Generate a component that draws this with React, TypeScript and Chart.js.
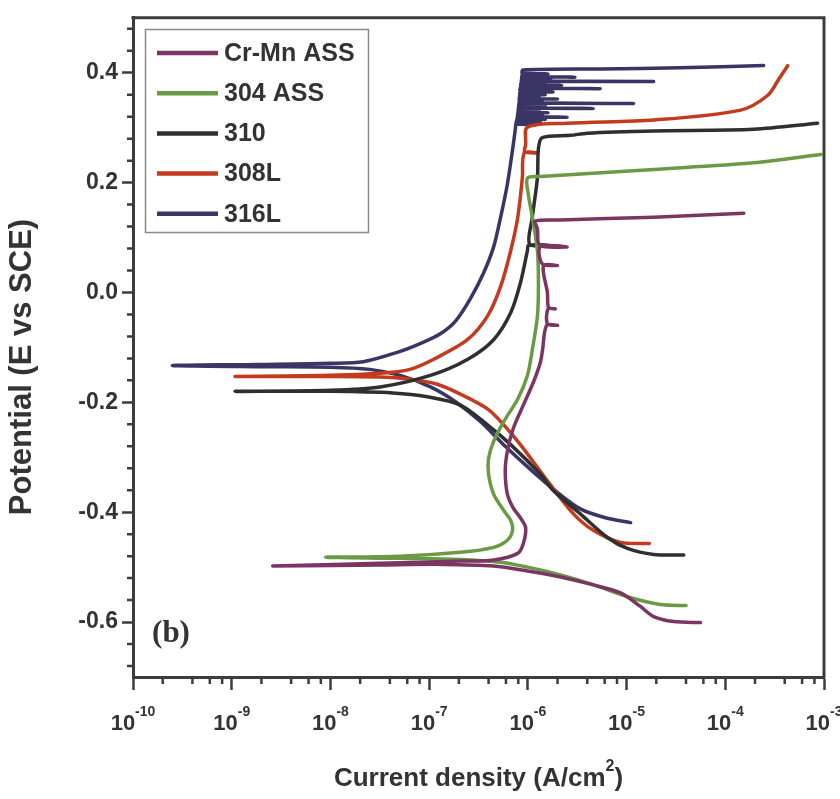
import { useEffect, useRef } from 'react';
import { Chart, registerables } from 'chart.js';

Chart.register(...registerables);

// ---------------- data ----------------
const seriesNames = ['Cr-Mn ASS', '304 ASS', '310', '308L', '316L'];
const seriesColors = ['#7b3563', '#6b9a45', '#2f2f2f', '#c43a1e', '#3a3564'];

// Cr-Mn ASS: cathodic end -> Ecorr tip -> anodic / passive
const crMnCurrent = [
  5.6e-5, 3.0e-5, 1.88e-5, 1.39e-5, 8.7e-6, 4.3e-6, 2.14e-6, 9.9e-7, 4.5e-7, 1.39e-7, 3.2e-8, 2.6e-9,
  3.2e-8, 2.07e-7, 4.5e-7, 7.9e-7, 9.0e-7, 9.5e-7, 8.4e-7, 7.1e-7, 6.2e-7, 5.9e-7, 6.2e-7, 7.1e-7,
  9.0e-7, 1.14e-6, 1.34e-6, 1.41e-6, 1.55e-6, 2.0e-6, 1.58e-6, 1.6e-6, 1.9e-6, 1.62e-6,
  1.58e-6, 1.44e-6, 2.0e-6, 1.40e-6,
  1.34e-6, 2.5e-6, 1.32e-6, 1.25e-6, 1.19e-6, 2.14e-6, 1.88e-5, 1.54e-4,
];
const crMnPotential = [
  -0.601, -0.599, -0.59, -0.572, -0.547, -0.531, -0.518, -0.507, -0.498, -0.495, -0.496, -0.498,
  -0.493, -0.489, -0.487, -0.475, -0.457, -0.428, -0.41, -0.392, -0.367, -0.325, -0.289, -0.248,
  -0.205, -0.163, -0.127, -0.104, -0.06, -0.06, -0.057, -0.03, -0.03, -0.027,
  -0.001, 0.049, 0.049, 0.052,
  0.083, 0.083, 0.086, 0.116, 0.13, 0.132, 0.137, 0.144,
];

// 304 ASS
const ss304Current = [
  4.0e-5, 2.2e-5, 1.02e-5, 4.6e-6, 2.14e-6, 9.9e-7, 5.3e-7, 2.07e-7, 5.1e-8, 8.9e-9,
  5.1e-8, 2.07e-7, 4.5e-7, 6.2e-7, 7.0e-7, 6.7e-7, 5.7e-7, 4.5e-7, 4.0e-7, 4.0e-7, 4.5e-7, 5.7e-7,
  7.9e-7, 9.9e-7, 1.11e-6, 1.25e-6, 1.28e-6, 1.25e-6, 1.11e-6, 1.01e-6, 9.9e-7, 1.34e-6, 1.88e-5,
  1.94e-4, 9.3e-4,
];
const ss304Potential = [
  -0.57, -0.568, -0.554, -0.532, -0.514, -0.5, -0.491, -0.486, -0.484, -0.482,
  -0.48, -0.473, -0.464, -0.451, -0.433, -0.415, -0.397, -0.367, -0.331, -0.302, -0.271, -0.235,
  -0.194, -0.151, -0.104, -0.043, 0.017, 0.076, 0.137, 0.179, 0.208, 0.211, 0.224,
  0.236, 0.251,
];

// 310
const ss310Current = [
  3.8e-5, 1.88e-5, 1.02e-5, 6.4e-6, 3.4e-6, 1.82e-6, 1.34e-6, 6.7e-7, 3.9e-7, 2.07e-7, 9.6e-8, 4.3e-8,
  1.0e-8, 1.08e-9,
  1.0e-8, 3.2e-8, 1.03e-7, 2.44e-7, 4.5e-7, 6.7e-7, 8.4e-7, 9.9e-7, 1.02e-6, 1.6e-6, 1.04e-6,
  1.11e-6, 1.25e-6, 1.28e-6, 1.4e-6, 2.7e-6, 4.0e-6, 1.88e-5, 1.94e-4, 8.6e-4,
];
const ss310Potential = [
  -0.478, -0.477, -0.466, -0.446, -0.403, -0.361, -0.331, -0.277, -0.241, -0.205, -0.19, -0.183,
  -0.18, -0.18,
  -0.178, -0.172, -0.151, -0.122, -0.086, -0.037, 0.017, 0.076, 0.086, 0.086, 0.088,
  0.137, 0.209, 0.262, 0.282, 0.286, 0.29, 0.294, 0.297, 0.308,
];

// 308L
const ss308LCurrent = [
  1.7e-5, 8.7e-6, 4.6e-6, 2.9e-6, 1.58e-6, 8.4e-7, 5.7e-7, 3.9e-7, 2.07e-7, 1.21e-7, 6.4e-8, 3.2e-8,
  7.9e-9, 1.08e-9,
  7.9e-9, 3.2e-8, 6.4e-8, 1.1e-7, 2.44e-7, 3.9e-7, 5.3e-7, 6.7e-7, 7.9e-7, 8.8e-7, 9.2e-7, 1.25e-6,
  9.3e-7, 9.5e-7, 9.9e-7, 2.5e-6, 1.9e-5, 1.43e-4, 2.7e-4, 3.5e-4, 4.3e-4,
];
const ss308LPotential = [
  -0.457, -0.455, -0.433, -0.403, -0.343, -0.277, -0.241, -0.212, -0.185, -0.167, -0.158, -0.154,
  -0.153, -0.153,
  -0.151, -0.147, -0.14, -0.122, -0.086, -0.043, 0.011, 0.076, 0.137, 0.209, 0.254, 0.254,
  0.256, 0.269, 0.301, 0.308, 0.314, 0.332, 0.359, 0.389, 0.413,
];

// 316L (with dense metastable pitting spikes in the passive range)
const ss316LCurrent = [
  1.1e-5, 6.1e-6, 3.4e-6, 1.9e-6, 1.06e-6, 5.9e-7, 3.3e-7, 1.85e-7, 1.03e-7, 5.1e-8, 2.5e-8, 1.0e-8,
  1.9e-9, 2.5e-10,
  1.9e-9, 1.0e-8, 2.15e-8, 4.75e-8, 8.1e-8, 1.3e-7, 1.85e-7, 2.6e-7, 3.55e-7, 4.5e-7, 5.3e-7, 6.2e-7,
  7.0e-7, 7.5e-7,
  7.6e-7, 1.2e-6, 7.6e-7,
  7.7e-7, 1.34e-6, 7.7e-7,
  7.8e-7, 1.5e-6, 7.8e-7,
  7.9e-7, 2.5e-6, 7.9e-7,
  7.9e-7, 1.4e-6, 7.9e-7,
  8.0e-7, 1.6e-6, 8.0e-7,
  8.0e-7, 1.3e-6, 8.0e-7,
  8.1e-7, 4.6e-6, 8.1e-7,
  8.1e-7, 1.5e-6, 8.1e-7,
  8.2e-7, 1.18e-5, 8.2e-7,
  8.2e-7, 1.4e-6, 8.2e-7,
  8.2e-7, 2.0e-6, 8.2e-7,
  8.3e-7, 1.3e-6, 8.3e-7,
  8.3e-7, 1.5e-6, 8.3e-7,
  8.4e-7, 1.8e-6, 8.4e-7,
  8.4e-7, 5.4e-6, 8.4e-7,
  8.5e-7, 1.4e-6, 8.5e-7,
  8.5e-7, 2.2e-6, 8.5e-7,
  8.6e-7, 1.5e-6, 8.6e-7,
  8.6e-7, 1.88e-5, 8.6e-7,
  8.7e-7, 1.7e-6, 8.7e-7,
  8.7e-7, 3.0e-6, 8.7e-7,
  8.8e-7, 1.4e-6, 8.8e-7,
  8.8e-7, 1.6e-6, 8.8e-7,
  8.9e-7, 5.4e-6, 3.5e-5, 2.45e-4,
];
const ss316LPotential = [
  -0.419, -0.41, -0.394, -0.361, -0.322, -0.28, -0.235, -0.199, -0.172, -0.151, -0.14, -0.136,
  -0.135, -0.133,
  -0.131, -0.129, -0.126, -0.109, -0.093, -0.075, -0.052, -0.012, 0.035, 0.083, 0.137, 0.197,
  0.26, 0.3,
  0.306, 0.306, 0.3075,
  0.31, 0.31, 0.3115,
  0.315, 0.315, 0.3165,
  0.319, 0.319, 0.3205,
  0.323, 0.323, 0.3245,
  0.327, 0.327, 0.3285,
  0.331, 0.331, 0.3325,
  0.335, 0.335, 0.3365,
  0.34, 0.34, 0.3415,
  0.344, 0.344, 0.3455,
  0.348, 0.348, 0.3495,
  0.352, 0.352, 0.3535,
  0.356, 0.356, 0.3575,
  0.36, 0.36, 0.3615,
  0.365, 0.365, 0.3665,
  0.371, 0.371, 0.3725,
  0.374, 0.374, 0.3755,
  0.377, 0.377, 0.3785,
  0.381, 0.381, 0.3825,
  0.384, 0.384, 0.3855,
  0.388, 0.388, 0.3895,
  0.392, 0.392, 0.3935,
  0.395, 0.395, 0.3965,
  0.398, 0.398, 0.3995,
  0.405, 0.407, 0.409, 0.413,
];

// axes
const xDecadeTicks = [1e-10, 1e-9, 1e-8, 1e-7, 1e-6, 1e-5, 1e-4, 1e-3];
const xTickExponents = ['-10', '-9', '-8', '-7', '-6', '-5', '-4', '-3'];
const xMinorMultipliers = [2, 4, 6, 8];
const yMajorTicks = [-0.6, -0.4, -0.2, 0.0, 0.2, 0.4];
const yMinorTicks = [
  -0.68, -0.64, -0.56, -0.52, -0.48, -0.44, -0.36, -0.32, -0.28, -0.24, -0.16, -0.12, -0.08, -0.04,
  0.04, 0.08, 0.12, 0.16, 0.24, 0.28, 0.32, 0.36, 0.44, 0.48,
];
const xTitle = 'Current density (A/cm';
const xTitleSup = '2';
const yTitle = 'Potential (E vs SCE)';
const panelLabel = '(b)';

const FONT = '"Liberation Sans", Arial, Helvetica, sans-serif';
const SERIF = '"Liberation Serif", "Times New Roman", serif';
const TEXT = '#333333';
const FRAME = '#3c3c3c';

function pairs(xs: number[], ys: number[]) {
  return xs.map((x, i) => ({ x, y: ys[i] }));
}

const decorPlugin = {
  id: 'decor',
  afterDraw(chart: any) {
    const { ctx, chartArea: ca, scales } = chart;
    const xs = scales.x;
    const ys = scales.y;
    ctx.save();

    // top + right frame
    ctx.strokeStyle = FRAME;
    ctx.lineWidth = 3;
    ctx.lineCap = 'square';
    ctx.beginPath();
    ctx.moveTo(ca.left, ca.top);
    ctx.lineTo(ca.right, ca.top);
    ctx.lineTo(ca.right, ca.bottom);
    ctx.stroke();

    // minor ticks
    ctx.lineWidth = 2.5;
    ctx.lineCap = 'butt';
    ctx.beginPath();
    yMinorTicks.forEach((v) => {
      const y = ys.getPixelForValue(v);
      ctx.moveTo(ca.left - 6, y);
      ctx.lineTo(ca.left, y);
    });
    xDecadeTicks.slice(0, -1).forEach((d) => {
      xMinorMultipliers.forEach((m) => {
        const x = xs.getPixelForValue(d * m);
        ctx.moveTo(x, ca.bottom);
        ctx.lineTo(x, ca.bottom + 7);
      });
    });
    ctx.stroke();

    // x tick labels 10^n
    ctx.fillStyle = TEXT;
    ctx.textAlign = 'left';
    ctx.textBaseline = 'alphabetic';
    xDecadeTicks.forEach((d, i) => {
      const px = xs.getPixelForValue(d);
      ctx.font = `bold 22px ${FONT}`;
      const w1 = ctx.measureText('10').width;
      ctx.font = `bold 14px ${FONT}`;
      const w2 = ctx.measureText(xTickExponents[i]).width;
      const x0 = px - (w1 + w2) / 2;
      ctx.font = `bold 22px ${FONT}`;
      ctx.fillText('10', x0, 730);
      ctx.font = `bold 14px ${FONT}`;
      ctx.fillText(xTickExponents[i], x0 + w1, 716);
    });

    // x title
    ctx.font = `bold 26px ${FONT}`;
    const tw = ctx.measureText(xTitle).width;
    ctx.font = `bold 16px ${FONT}`;
    const sw = ctx.measureText(xTitleSup).width;
    ctx.font = `bold 26px ${FONT}`;
    const pw = ctx.measureText(')').width;
    const cx = (ca.left + ca.right) / 2;
    const tx = cx - (tw + sw + pw) / 2;
    ctx.fillText(xTitle, tx, 786);
    ctx.font = `bold 16px ${FONT}`;
    ctx.fillText(xTitleSup, tx + tw, 771);
    ctx.font = `bold 26px ${FONT}`;
    ctx.fillText(')', tx + tw + sw, 786);

    // y title
    ctx.save();
    ctx.translate(22, 367);
    ctx.rotate(-Math.PI / 2);
    ctx.font = `bold 31px ${FONT}`;
    ctx.textAlign = 'center';
    ctx.textBaseline = 'middle';
    ctx.fillText(yTitle, 0, 0);
    ctx.restore();

    // panel label
    ctx.font = `bold 31px ${SERIF}`;
    ctx.textAlign = 'center';
    ctx.textBaseline = 'middle';
    ctx.fillText(panelLabel, 171, 634);

    // legend
    ctx.strokeStyle = '#8a8a8a';
    ctx.lineWidth = 1.5;
    ctx.strokeRect(145.5, 29.5, 223, 203);
    ctx.textAlign = 'left';
    ctx.font = `bold 25px ${FONT}`;
    chart.data.datasets.forEach((ds: any, i: number) => {
      const y = 53 + i * 40.2;
      ctx.strokeStyle = ds.borderColor;
      ctx.lineWidth = 4.5;
      ctx.beginPath();
      ctx.moveTo(157, y);
      ctx.lineTo(218, y);
      ctx.stroke();
      ctx.fillStyle = TEXT;
      ctx.fillText(ds.label, 224, y + 1);
    });

    ctx.restore();
  },
};

export default function App() {
  const ref = useRef<HTMLCanvasElement | null>(null);

  useEffect(() => {
    document.body.style.margin = '0';
    const canvas = ref.current;
    if (!canvas) return;
    const seriesData = [
      pairs(crMnCurrent, crMnPotential),
      pairs(ss304Current, ss304Potential),
      pairs(ss310Current, ss310Potential),
      pairs(ss308LCurrent, ss308LPotential),
      pairs(ss316LCurrent, ss316LPotential),
    ];
    const chart = new Chart(canvas, {
      type: 'scatter',
      data: {
        datasets: seriesNames.map((name, i) => ({
          label: name,
          data: seriesData[i],
          showLine: true,
          borderColor: seriesColors[i],
          backgroundColor: seriesColors[i],
          borderWidth: 3.5,
          pointRadius: 0,
          pointHoverRadius: 0,
          tension: 0.3,
          borderCapStyle: 'round',
          borderJoinStyle: 'round',
          fill: false,
        })),
      },
      options: {
        responsive: false,
        maintainAspectRatio: false,
        animation: false,
        devicePixelRatio: 1,
        layout: { padding: { left: 0, top: 12, right: 16, bottom: 0 } },
        plugins: {
          legend: { display: false },
          tooltip: { enabled: false },
        },
        scales: {
          x: {
            type: 'logarithmic',
            min: 1e-10,
            max: 1e-3,
            afterBuildTicks: (scale: any) => {
              scale.ticks = xDecadeTicks.map((v) => ({ value: v, major: true }));
            },
            afterFit: (scale: any) => {
              scale.height = 122;
            },
            ticks: { display: false },
            grid: {
              display: true,
              drawOnChartArea: false,
              drawTicks: true,
              tickLength: 13,
              tickWidth: 2.5,
              tickColor: FRAME,
            },
            border: { display: true, width: 3, color: FRAME },
          },
          y: {
            type: 'linear',
            min: -0.7,
            max: 0.5,
            afterBuildTicks: (scale: any) => {
              scale.ticks = yMajorTicks.map((v) => ({ value: v }));
            },
            afterFit: (scale: any) => {
              scale.width = 133;
            },
            ticks: {
              callback: (v: any) => Number(v).toFixed(1),
              color: TEXT,
              padding: 4,
              font: { family: FONT, size: 23, weight: 'bold' },
            },
            grid: {
              display: true,
              drawOnChartArea: false,
              drawTicks: true,
              tickLength: 11,
              tickWidth: 2.5,
              tickColor: FRAME,
            },
            border: { display: true, width: 3, color: FRAME },
          },
        },
      },
      plugins: [decorPlugin],
    } as any);
    return () => chart.destroy();
  }, []);

  return <canvas ref={ref} width={840} height={799} style={{ display: 'block', width: 840, height: 799 }} />;
}
